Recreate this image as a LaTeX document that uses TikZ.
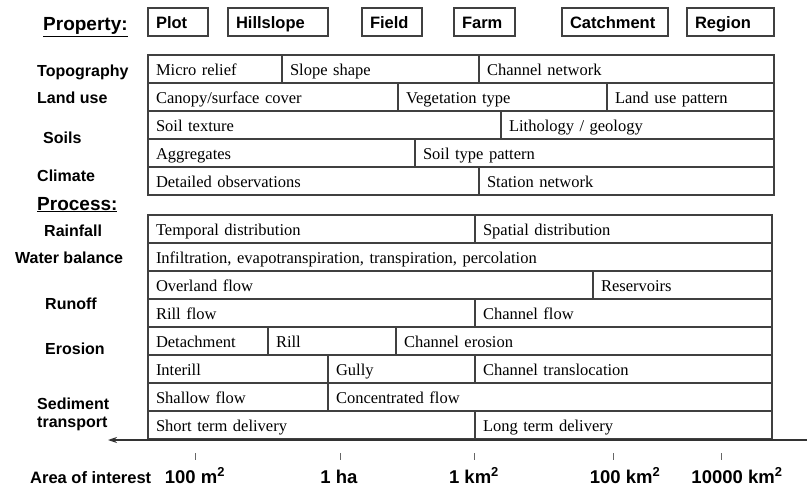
\documentclass[tikz,border=0pt]{standalone}
\usepackage{fontspec}
\setmainfont{Liberation Serif}
\newfontfamily\arialfont{Liberation Sans}
\usetikzlibrary{arrows.meta}

\begin{document}
\begin{tikzpicture}[
    x=1pt, y=-1pt,
    cellnode/.style={draw=black!75, line width=1.1pt, anchor=north west, outer sep=0pt,
        minimum height=28pt, inner xsep=8pt, inner ysep=0pt, text height=13pt, text depth=0pt,
        align=left, font=\fontsize{16.5}{18}\selectfont},
    scalenode/.style={cellnode, font=\arialfont\bfseries\fontsize{16.5}{18}\selectfont},
    labelnode/.style={anchor=base west, inner sep=0pt, font=\arialfont\bfseries\fontsize{16}{18}\selectfont},
    headnode/.style={anchor=base west, inner sep=0pt, font=\arialfont\bfseries\fontsize{19}{22}\selectfont},
    areanode/.style={anchor=base, inner sep=0pt, font=\arialfont\bfseries\fontsize{18.5}{22}\selectfont}
]
\useasboundingbox (0,0) rectangle (807,487);

% scales
\node[headnode](property) at (43,31) {\underline{Property:}};
\node[scalenode, text width=44pt](plot) at (148,8) {Plot};
\node[scalenode, text width=84pt](hillslope) at (228,8) {Hillslope};
\node[scalenode, text width=44pt](field) at (362,8) {Field};
\node[scalenode, text width=45pt](farm) at (454,8) {Farm};
\node[scalenode, text width=90pt](catchment) at (562,8) {Catchment};
\node[scalenode, text width=71pt](region) at (687,8) {Region};

% property rows
\node[labelnode](topo) at (37,77) {Topography};
\node[labelnode](landuse) at (37,103) {Land use};
\node[labelnode](soils) at (43,143) {Soils};
\node[labelnode](climate) at (37,182) {Climate};

\node[cellnode, text width=118pt](microrelief) at (148,55) {Micro relief};
\node[cellnode, text width=181pt](slopeshape) at (282,55) {Slope shape};
\node[cellnode, text width=279pt](channelnet) at (479,55) {Channel network};

\node[cellnode, text width=234pt](canopy) at (148,83) {Canopy/surface cover};
\node[cellnode, text width=193pt](vegtype) at (398,83) {Vegetation type};
\node[cellnode, text width=151pt](landpattern) at (607,83) {Land use pattern};

\node[cellnode, text width=337pt](soiltexture) at (148,111) {Soil texture};
\node[cellnode, text width=257pt](lithology) at (501,111) {Lithology / geology};

\node[cellnode, text width=251pt](aggregates) at (148,139) {Aggregates};
\node[cellnode, text width=343pt](soilpattern) at (415,139) {Soil type pattern};

\node[cellnode, text width=315pt](detailed) at (148,167) {Detailed observations};
\node[cellnode, text width=279pt](station) at (479,167) {Station network};

% process rows
\node[headnode](process) at (37,210) {\underline{Process:}};
\node[labelnode](rainfall) at (44,236) {Rainfall};
\node[labelnode](waterbal) at (15,263) {Water balance};
\node[labelnode](runoff) at (45,309) {Runoff};
\node[labelnode](erosion) at (45,354) {Erosion};
\node[labelnode](sediment) at (37,409) {Sediment};
\node[labelnode](transport) at (37,427) {transport};

\node[cellnode, text width=311pt](temporal) at (148,215) {Temporal distribution};
\node[cellnode, text width=281pt](spatial) at (475,215) {Spatial distribution};

\node[cellnode, text width=608pt](infiltration) at (148,243) {Infiltration, evapotranspiration, transpiration, percolation};

\node[cellnode, text width=429pt](overland) at (148,271) {Overland flow};
\node[cellnode, text width=163pt](reservoirs) at (593,271) {Reservoirs};

\node[cellnode, text width=311pt](rillflow) at (148,299) {Rill flow};
\node[cellnode, text width=281pt](channelflow) at (475,299) {Channel flow};

\node[cellnode, text width=104pt](detachment) at (148,327) {Detachment};
\node[cellnode, text width=112pt](rill) at (268,327) {Rill};
\node[cellnode, text width=360pt](channelero) at (396,327) {Channel erosion};

\node[cellnode, text width=164pt](interill) at (148,355) {Interill};
\node[cellnode, text width=131pt](gully) at (328,355) {Gully};
\node[cellnode, text width=281pt](translocation) at (475,355) {Channel translocation};

\node[cellnode, text width=164pt](shallow) at (148,383) {Shallow flow};
\node[cellnode, text width=428pt](concentrated) at (328,383) {Concentrated flow};

\node[cellnode, text width=311pt](shortterm) at (148,411) {Short term delivery};
\node[cellnode, text width=281pt](longterm) at (475,411) {Long term delivery};

% area axis
\coordinate (axisend) at (807,440);
\coordinate (axistip) at (108,440);
\draw[black!80, line width=1.2pt, -{Stealth[length=9pt, width=6pt]}] (axisend) -- (axistip);
\foreach \tx in {195,340,474,613,721}
    \draw[black!60, line width=0.8pt] (\tx,453) -- (\tx,460);

\node[labelnode, font=\arialfont\bfseries\fontsize{16.5}{18}\selectfont](area) at (30,483) {Area of interest};
\node[areanode](am) at (195,483) {100 m\textsuperscript{2}};
\node[areanode](ha) at (339,483) {1 ha};
\node[areanode](km) at (474,483) {1 km\textsuperscript{2}};
\node[areanode](hkm) at (625,483) {100 km\textsuperscript{2}};
\node[areanode](tkm) at (737,483) {10000 km\textsuperscript{2}};
\end{tikzpicture}
\end{document}
